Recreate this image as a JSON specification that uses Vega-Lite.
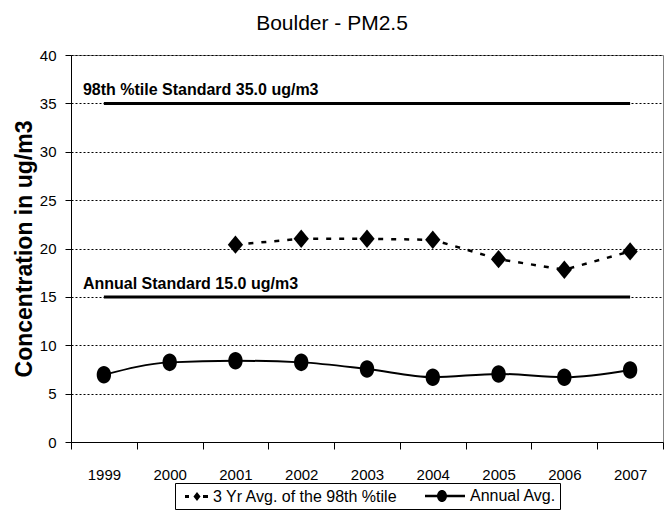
{
  "$schema": "https://vega.github.io/schema/vega-lite/v6.json",
  "width": 592,
  "height": 387,
  "autosize": "none",
  "padding": {"left": 71, "top": 55, "right": 2, "bottom": 78},
  "background": "white",
  "title": {"text": "Boulder - PM2.5", "fontSize": 21, "fontWeight": "normal", "font": "Liberation Sans", "color": "black", "dx": -35, "offset": 14},
  "config": {
    "font": "Liberation Sans",
    "view": {"stroke": "#808080", "strokeWidth": 1},
    "axis": {"labelColor": "black", "titleColor": "black", "domainColor": "black", "tickColor": "black", "labelFont": "Liberation Sans", "titleFont": "Liberation Sans"},
    "legend": {"layout": {"bottom": {"anchor": "middle"}}}
  },
  "datasets": {
    "series": [
      {"year": "1999", "series": "Annual Avg.", "value": 6.94},
      {"year": "2000", "series": "Annual Avg.", "value": 8.23},
      {"year": "2001", "series": "Annual Avg.", "value": 8.4},
      {"year": "2002", "series": "Annual Avg.", "value": 8.23},
      {"year": "2003", "series": "Annual Avg.", "value": 7.55},
      {"year": "2004", "series": "Annual Avg.", "value": 6.7},
      {"year": "2005", "series": "Annual Avg.", "value": 7.04},
      {"year": "2006", "series": "Annual Avg.", "value": 6.7},
      {"year": "2007", "series": "Annual Avg.", "value": 7.45},
      {"year": "2001", "series": "3 Yr Avg. of the 98th %tile", "value": 20.4},
      {"year": "2002", "series": "3 Yr Avg. of the 98th %tile", "value": 21.0},
      {"year": "2003", "series": "3 Yr Avg. of the 98th %tile", "value": 21.0},
      {"year": "2004", "series": "3 Yr Avg. of the 98th %tile", "value": 20.9},
      {"year": "2005", "series": "3 Yr Avg. of the 98th %tile", "value": 18.9},
      {"year": "2006", "series": "3 Yr Avg. of the 98th %tile", "value": 17.8},
      {"year": "2007", "series": "3 Yr Avg. of the 98th %tile", "value": 19.7}
    ],
    "standards": [
      {"year": "1999", "name": "98th", "value": 35},
      {"year": "2007", "name": "98th", "value": 35},
      {"year": "1999", "name": "annual", "value": 15},
      {"year": "2007", "name": "annual", "value": 15}
    ],
    "labels": [
      {"year": "1999", "value": 35, "text": "98th %tile Standard 35.0 ug/m3"},
      {"year": "1999", "value": 15, "text": "Annual Standard 15.0 ug/m3"}
    ]
  },
  "encoding": {
    "x": {
      "field": "year", "type": "ordinal",
      "scale": {"type": "band", "domain": ["1999","2000","2001","2002","2003","2004","2005","2006","2007"], "paddingInner": 0, "paddingOuter": 0},
      "axis": {"title": null, "labelAngle": 0, "tickBand": "extent", "labelFontSize": 15, "tickSize": 7, "labelPadding": 18, "grid": false}
    },
    "y": {
      "field": "value", "type": "quantitative",
      "scale": {"domain": [0, 40], "nice": false, "zero": true},
      "axis": {"title": "Concentration in ug/m3", "titleFontSize": 23, "titleFontWeight": "bold", "titlePadding": 3, "values": [0,5,10,15,20,25,30,35,40], "labelFontSize": 15, "tickSize": 6, "labelPadding": 9, "grid": true, "gridColor": "black", "gridDash": [2, 2], "gridWidth": 1}
    }
  },
  "layer": [
    {
      "data": {"name": "standards"},
      "mark": {"type": "line", "color": "black", "strokeWidth": 3},
      "encoding": {"detail": {"field": "name"}}
    },
    {
      "data": {"name": "labels"},
      "mark": {"type": "text", "align": "left", "baseline": "alphabetic", "dx": -21, "dy": -8, "fontSize": 16, "fontWeight": "bold", "color": "black"},
      "encoding": {"text": {"field": "text"}}
    },
    {
      "data": {"name": "series"},
      "transform": [{"filter": "datum.series === '3 Yr Avg. of the 98th %tile'"}],
      "mark": {"type": "line", "color": "black", "strokeWidth": 2.5, "strokeDash": [5, 8], "interpolate": "linear"},
      "encoding": {}
    },
    {
      "data": {"name": "series"},
      "transform": [{"filter": "datum.series === 'Annual Avg.'"}],
      "mark": {"type": "line", "color": "black", "strokeWidth": 2, "interpolate": "monotone"},
      "encoding": {}
    },
    {
      "data": {"name": "series"},
      "mark": {"type": "point", "filled": true, "color": "black", "opacity": 1, "size": 340},
      "encoding": {
        "shape": {"field": "series", "type": "nominal", "legend": null,
          "scale": {"domain": ["3 Yr Avg. of the 98th %tile", "Annual Avg."], "range": ["M0,-1L0.83,0L0,1L-0.83,0Z", "M-0.78,0A0.78,0.95 0 1,1 0.78,0A0.78,0.95 0 1,1 -0.78,0Z"]}}
      }
    },
    {
      "data": {"values": []},
      "mark": {"type": "point", "filled": true, "fill": "black", "opacity": 1, "size": 256},
      "encoding": {
        "shape": {"field": "series", "type": "nominal",
          "scale": {"domain": ["3 Yr Avg. of the 98th %tile", "Annual Avg."], "range": ["M-0.375,-0.18L0.125,-0.18L0.125,0.18L-0.375,0.18ZM1.875,-0.18L2.5,-0.18L2.5,0.18L1.875,0.18ZM1.125,-0.56L1.57,0L1.125,0.56L0.68,0Z", "M-2.5,-0.15L2.5,-0.15L2.5,0.15L-2.5,0.15ZM-1,0A0.625,0.75 0 1,1 0.25,0A0.625,0.75 0 1,1 -1,0Z"]},
          "legend": {"title": null, "orient": "bottom", "direction": "horizontal", "offset": 1, "padding": 4, "strokeColor": "black", "labelFontSize": 16, "labelColor": "black", "labelFont": "Liberation Sans", "labelOffset": 16, "columnPadding": 24, "symbolSize": 256, "symbolOpacity": 1, "symbolFillColor": "black", "labelLimit": 400}
        }
      }
    }
  ],
  "resolve": {"scale": {"shape": "independent"}, "legend": {"shape": "independent"}}
}
